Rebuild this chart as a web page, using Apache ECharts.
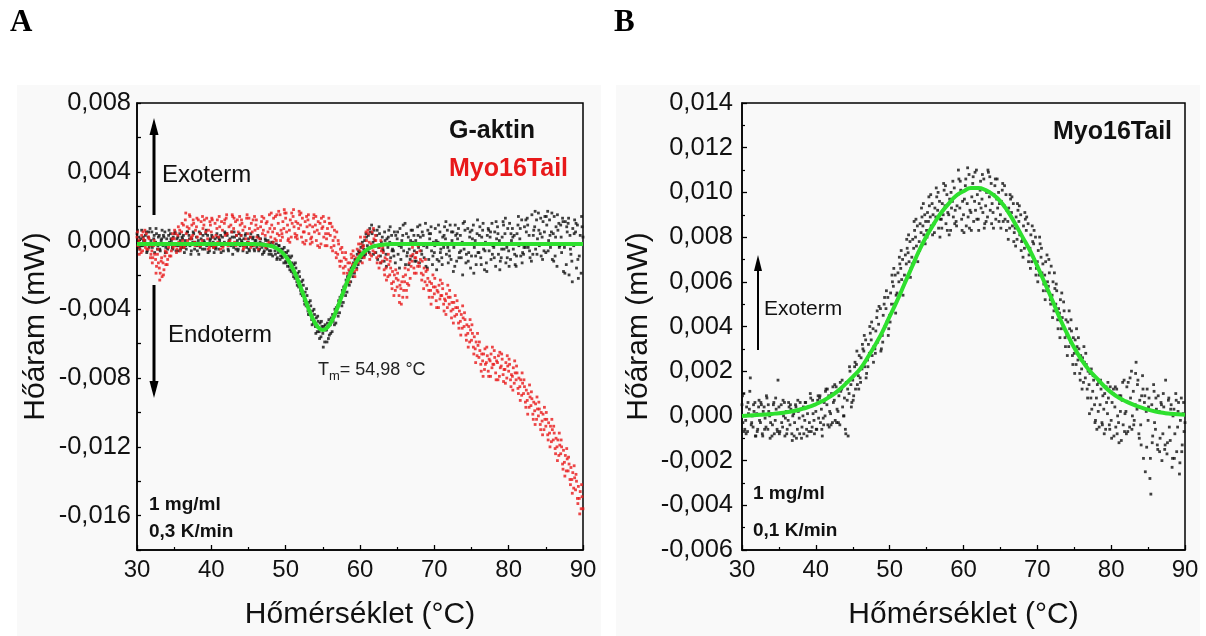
<!DOCTYPE html>
<html>
<head>
<meta charset="utf-8">
<script src="https://cdn.jsdelivr.net/npm/echarts@6/dist/echarts.min.js"></script>
<style>
  html, body { margin: 0; padding: 0; background: #ffffff; }
  .panelbg { position: absolute; background: #f9f9f9; }
  #chart { position: absolute; left: 0; top: 0; width: 1206px; height: 636px; }
</style>
</head>
<body>
<div class="panelbg" style="left:17px;top:85px;width:584px;height:551px;"></div>
<div class="panelbg" style="left:616px;top:85px;width:584px;height:551px;"></div>
<div id="chart"></div>
<script>
// ---------------- DATA ----------------
// Readings are binned every 0.5 °C (30 ... 90). First pass: 4 readings per bin, second pass: 2 readings per bin (µW).
const binStart = 30, binStep = 0.5;
const offsetsPass1 = [0, 0.125, 0.25, 0.375]; // °C offset of each reading inside a bin
const offsetsPass2 = [0.06, 0.31];

// Panel A – G-aktin (black), µW
const gAktinA = [
[0.4,-0.1,0.2,-0.5],[0.1,0.6,-0.3,0.0],[-0.2,0.3,0.5,-0.6],[0.2,-0.4,0.7,0.0],[0.5,-0.2,0.1,-0.7],
[-0.1,0.4,-0.5,0.2],[0.3,-0.6,0.0,0.6],[-0.3,0.2,0.5,-0.4],[0.1,-0.5,0.3,-0.1],[0.4,0.0,-0.4,0.2],
[-0.2,0.5,-0.6,0.1],[0.2,-0.3,0.4,-0.5],[-0.4,0.1,0.3,-0.7],[0.0,-0.5,0.5,-0.2],[0.3,-0.3,-0.8,0.1],
[-0.1,0.4,-0.5,-0.2],[0.2,-0.6,0.0,0.5],[-0.4,0.1,-0.2,0.3],[0.0,-0.5,0.4,-0.3],[0.3,-0.2,-0.6,0.1],
[-0.3,0.2,-0.1,-0.7],[0.1,-0.4,0.4,-0.2],[-0.5,0.0,0.3,-0.3],[0.2,-0.6,-0.1,0.4],[-0.2,0.3,-0.5,0.0],
[0.1,-0.3,0.5,-0.8],[-0.4,0.2,-0.2,0.3],[0.0,-0.5,0.4,-0.3],[0.3,-0.1,-0.6,0.1],[-0.2,0.4,-0.4,-0.1],
[0.1,-0.6,0.2,-0.3],[-0.3,0.2,-0.5,0.0],[0.0,-0.4,0.3,-0.6],[-0.5,0.1,-0.2,-0.8],[-0.2,-0.6,0.1,-0.4],
[-0.5,0.0,-0.8,-0.2],[-0.6,-0.1,-0.9,-0.3],[-0.4,-0.8,-0.2,-1.0],[-0.7,-0.3,-1.1,-0.5],[-0.9,-0.5,-1.3,-0.7],
[-1.2,-0.7,-1.5,-0.9],[-1.5,-1.0,-1.8,-1.3],[-1.9,-1.4,-2.2,-1.6],[-2.4,-1.9,-2.7,-2.1],[-2.9,-2.4,-3.2,-2.6],
[-3.5,-3.0,-3.8,-3.2],[-4.1,-3.6,-4.3,-3.8],[-4.6,-4.1,-4.8,-4.3],[-5.0,-4.5,-5.3,-4.7],[-5.3,-4.8,-5.6,-5.0],
[-5.4,-5.0,-5.9,-5.2],[-5.2,-4.8,-5.7,-5.5],[-4.9,-4.5,-5.3,-4.7],[-4.4,-4.0,-4.8,-4.2],[-3.8,-3.5,-4.2,-3.6],
[-3.2,-2.9,-3.6,-3.0],[-2.6,-2.3,-3.0,-2.5],[-2.0,-1.8,-2.4,-1.9],[-1.5,-1.3,-1.9,-1.2],[-1.1,-0.8,-1.4,-0.7],
[-0.7,-0.4,-1.0,-0.3],[-0.5,0.0,-0.8,0.2],[-0.3,0.3,-0.7,0.5],[-0.4,0.4,-0.1,0.6],[0.0,-0.7,0.3,-1.1],
[-0.4,0.4,-0.9,-0.1],[0.2,-0.6,-1.2,0.0],[-0.8,0.1,-0.4,0.6],[-0.1,-1.0,0.3,-0.5],[-0.6,0.5,-1.3,-0.2],
[0.1,-0.8,-0.3,0.7],[-1.1,0.0,0.3,-0.6],[-0.2,-1.4,0.4,-0.7],[0.2,-0.5,-1.1,0.6],[-0.9,-0.1,0.3,-1.2],
[0.0,-0.7,0.8,-0.4],[-1.3,0.2,-0.6,0.5],[0.3,-1.0,-0.2,-1.5],[-0.4,0.6,-1.1,0.1],[0.4,-0.6,-1.4,-0.1],
[-0.7,0.7,0.0,-1.1],[-0.1,-1.2,0.5,-0.5],[-1.0,0.2,-0.4,0.8],[0.1,-0.8,0.6,-1.3],[-0.6,0.9,-1.1,0.0],
[0.5,-0.4,-1.5,0.3],[-1.2,0.1,0.7,-0.7],[0.3,-1.0,-0.1,1.0],[-0.5,0.6,-1.3,-0.2],[0.7,-0.7,0.2,-1.6],
[-0.9,0.1,0.9,-0.4],[0.0,-1.4,0.4,-0.7],[-0.7,0.8,-1.0,0.2],[0.6,-0.5,-1.7,-0.1],[-1.3,0.3,0.7,-0.6],
[0.2,-1.1,1.0,-0.3],[-0.4,0.5,-1.5,0.1],[0.8,-0.8,0.0,-1.2],[-1.0,0.2,1.1,-0.5],[0.4,-1.3,-0.4,0.7],
[-0.6,1.0,-1.1,0.0],[0.7,-0.5,0.3,-1.4],[-1.5,0.4,0.9,-0.3],[0.1,-0.9,1.2,-0.7],[-0.8,0.8,-0.4,0.5],
[1.3,-0.4,0.3,-1.0],[-0.2,1.5,-0.8,0.6],[0.8,-0.5,1.2,0.1],[1.6,-0.3,0.4,-0.9],[0.2,1.1,-0.6,1.4],
[-0.7,0.9,1.7,0.0],[1.2,-0.4,0.5,-1.1],[0.4,1.4,-0.9,0.8],[-1.5,0.6,1.0,-0.3],[0.9,-0.7,1.3,-1.8],
[-0.4,1.1,-1.4,0.5],[1.0,-2.0,0.3,-0.8],[-1.2,0.7,-0.3,1.2],[0.5,-1.6,0.9,-2.2],[-0.9,0.3,-1.9,0.8],
[0.2,-1.3,1.1,-0.6]
];
const gAktinA2 = [
[0.6,-0.4],[-0.3,0.2],[0.0,-0.7],[0.5,-0.2],[-0.4,0.3],[0.7,-0.3],[-0.5,0.1],[0.3,-0.7],[-0.2,0.6],[0.1,-0.5],
[0.4,-0.3],[-0.6,0.0],[0.2,-0.4],[-0.3,0.5],[0.1,-0.6],[0.5,-0.1],[-0.3,-0.8],[0.4,-0.5],[-0.1,0.6],[-0.7,0.0],
[0.3,-0.4],[-0.5,0.2],[0.1,-0.7],[-0.3,0.5],[0.4,-0.6],[-0.2,0.2],[0.5,-0.5],[-0.6,0.1],[0.0,-0.3],[0.3,-0.7],
[-0.5,0.4],[0.1,-0.6],[-0.2,0.2],[-0.1,-0.4],[-0.7,0.0],[-0.3,-0.6],[-0.8,-0.1],[-0.6,-1.1],[-0.3,-0.9],[-1.0,-0.4],
[-1.3,-0.6],[-1.7,-0.9],[-2.1,-1.3],[-2.6,-1.8],[-3.1,-2.3],[-3.7,-2.8],[-4.3,-3.5],[-4.9,-4.0],[-5.4,-4.4],[-5.7,-4.7],
[-6.2,-4.9],[-5.9,-4.6],[-5.4,-4.3],[-4.9,-3.9],[-4.4,-3.3],[-3.8,-2.7],[-3.2,-2.1],[-2.6,-1.6],[-2.1,-1.1],[-1.6,-0.6],
[-1.2,-0.1],[-0.9,0.4],[-0.6,0.7],[0.9,-0.8],[-0.3,0.6],[0.8,-1.3],[-0.5,0.5],[-1.5,0.2],[0.8,-0.6],[-0.9,0.3],
[0.5,-1.6],[-0.4,0.9],[1.0,-0.9],[-1.4,0.0],[0.6,-0.6],[-1.2,0.3],[0.9,-0.8],[-0.3,1.0],[-1.6,0.4],[0.8,-0.9],
[-0.3,-1.7],[0.9,-0.7],[-1.4,0.3],[1.1,-0.4],[-0.9,0.5],[-1.8,0.9],[0.4,-1.0],[-0.6,-2.0],[1.1,-0.8],[-1.2,0.5],
[0.6,-1.9],[-0.9,1.2],[0.3,-1.4],[1.0,-0.6],[-1.8,0.6],[0.5,-0.8],[-1.0,1.1],[0.4,-1.7],[-0.5,0.9],[1.3,-1.0],
[-1.5,0.4],[0.2,-0.8],[-0.9,1.4],[0.7,-1.3],[-0.4,1.2],[0.9,-0.6],[-1.2,0.3],[1.7,-0.8],[0.6,1.3],[-1.1,0.5],
[1.4,-0.6],[0.3,1.6],[-1.2,0.2],[1.5,-0.4],[0.2,1.1],[-1.9,0.8],[1.3,-0.5],[-2.4,0.4],[1.0,-1.1],[-0.2,1.4],
[-1.7,0.6]
];

// Panel A – Myo16Tail (red), µW
const myo16TailA = [
[0.2,-0.3,0.0,-0.5],[-0.2,0.3,-0.6,0.1],[0.0,-0.4,0.4,-0.2],[-0.5,0.1,-0.3,-0.8],[-0.6,-1.0,-0.3,-0.8],
[-1.1,-1.5,-0.8,-1.3],[-1.6,-1.9,-1.2,-2.1],[-1.3,-1.7,-0.9,-1.4],[-0.7,-1.1,-0.4,-0.9],[-0.2,-0.6,0.1,-0.4],
[0.1,-0.3,0.4,-0.5],[0.3,-0.1,0.6,-0.4],[0.5,0.0,0.9,-0.3],[1.2,0.4,0.8,-0.2],[0.7,1.4,0.1,0.9],
[0.3,1.0,-0.1,0.6],[0.8,0.2,1.2,-0.3],[0.4,1.1,0.0,0.7],[0.9,-0.2,0.5,1.3],[0.1,0.6,-0.4,0.9],
[0.5,1.2,0.2,-0.3],[1.0,0.3,0.7,-0.1],[0.2,0.8,-0.5,1.1],[0.6,-0.2,1.0,0.3],[1.3,0.4,-0.3,0.8],
[0.0,0.9,0.5,1.4],[0.7,-0.1,1.1,0.3],[1.2,0.5,-0.2,0.9],[0.3,1.0,0.6,-0.4],[0.8,0.1,1.3,0.4],
[-0.1,0.7,0.2,1.0],[0.5,1.2,-0.3,0.6],[0.9,0.2,0.7,-0.2],[0.1,0.8,1.1,0.4],[0.6,-0.3,0.3,1.0],
[1.1,0.5,-0.1,0.7],[0.2,0.9,0.5,1.3],[0.7,1.4,0.0,0.4],[1.0,0.3,1.5,0.6],[0.4,1.1,0.7,1.6],
[1.3,0.5,0.9,0.1],[0.6,1.2,0.2,1.0],[1.4,0.8,0.4,1.1],[0.3,1.0,0.7,1.5],[0.9,0.2,1.3,0.5],
[0.5,1.1,0.0,0.8],[1.2,0.4,0.9,0.1],[0.2,0.8,1.3,0.5],[0.9,0.0,0.6,1.1],[0.4,1.0,-0.2,0.7],
[0.8,0.2,1.1,0.4],[0.1,0.7,0.4,1.0],[0.3,-0.4,0.8,0.0],[-0.3,0.2,-0.7,0.5],[-0.8,-0.2,-1.2,-0.5],
[-1.2,-0.7,-1.6,-1.0],[-1.5,-1.1,-1.9,-1.3],[-1.7,-1.3,-2.0,-1.0],[-1.4,-0.9,-1.8,-1.2],[-1.0,-0.5,-1.3,-0.8],
[-0.6,-0.2,-0.9,-0.4],[-0.3,0.2,-0.7,0.0],[-0.5,0.4,-0.1,-0.8],[-0.2,0.5,-0.6,0.1],[-0.7,0.0,-1.0,-0.3],
[-0.9,-0.4,-1.3,-0.6],[-1.2,-0.7,-1.7,-1.0],[-1.6,-1.1,-2.1,-1.4],[-2.0,-1.6,-2.5,-1.8],[-2.4,-2.0,-2.9,-2.2],
[-2.7,-2.3,-3.2,-2.6],[-2.8,-2.4,-3.3,-2.9],[-2.4,-2.0,-2.9,-2.5],[-1.7,-1.3,-2.2,-1.5],[-1.2,-0.8,-1.6,-1.0],
[-1.0,-0.7,-1.5,-1.3],[-1.5,-1.1,-1.9,-1.2],[-2.0,-1.6,-2.4,-1.8],[-2.6,-2.2,-2.9,-2.4],[-2.9,-2.5,-3.3,-2.7],
[-3.1,-2.7,-3.5,-2.9],[-3.0,-2.6,-3.4,-3.2],[-3.2,-2.8,-3.7,-3.4],[-3.5,-3.1,-3.9,-3.3],[-3.7,-3.3,-4.1,-3.6],
[-4.0,-3.6,-4.4,-3.9],[-4.3,-3.9,-4.8,-4.1],[-4.7,-4.3,-5.1,-4.5],[-5.0,-4.6,-5.5,-4.9],[-5.4,-5.0,-5.9,-5.2],
[-5.8,-5.4,-6.2,-5.6],[-6.3,-5.9,-6.7,-6.1],[-6.8,-6.4,-7.2,-6.6],[-7.0,-6.6,-7.5,-7.2],[-7.1,-6.7,-7.6,-6.9],
[-7.0,-6.6,-7.4,-7.2],[-7.2,-6.8,-7.7,-7.0],[-7.1,-6.7,-7.9,-7.4],[-7.3,-6.9,-7.8,-7.5],[-7.5,-7.1,-8.0,-7.3],
[-7.6,-7.2,-8.1,-7.8],[-7.9,-7.4,-8.3,-7.7],[-8.1,-7.7,-8.6,-8.0],[-8.5,-8.1,-9.0,-8.3],[-8.9,-8.5,-9.4,-8.7],
[-9.3,-8.9,-9.7,-9.1],[-9.6,-9.2,-10.1,-9.4],[-9.9,-9.5,-10.4,-9.8],[-10.2,-9.8,-10.7,-10.0],[-10.5,-10.1,-11.0,-10.4],
[-10.8,-10.4,-11.3,-10.6],[-11.2,-10.8,-11.7,-11.0],[-11.6,-11.2,-12.1,-11.5],[-12.0,-11.6,-12.5,-11.9],[-12.4,-12.0,-13.0,-12.2],
[-12.9,-12.5,-13.4,-12.7],[-13.4,-13.0,-13.9,-13.2],[-13.9,-13.5,-14.4,-13.8],[-14.5,-14.0,-15.0,-14.3],[-15.0,-14.6,-15.6,-14.9],
[-15.6,-15.1,-16.4,-15.4]
];
const myo16TailA2 = [
[0.5,-0.8],[-0.7,0.5],[0.6,-0.5],[0.2,-1.0],[-1.3,0.0],[-1.9,-0.5],[-2.3,-1.0],[-2.0,-0.6],[-1.4,-0.2],[-0.9,0.4],
[0.6,-0.7],[0.8,-0.6],[1.0,-0.4],[1.6,0.0],[1.5,0.2],[1.2,-0.3],[1.3,-0.2],[-0.3,1.4],[1.2,-0.2],[-0.5,1.1],
[1.3,-0.4],[-0.3,1.2],[1.4,-0.2],[-0.4,1.2],[1.5,-0.1],[-0.2,1.5],[1.3,-0.3],[-0.2,1.4],[1.2,-0.5],[-0.3,1.5],
[1.3,-0.4],[-0.2,1.4],[1.2,-0.5],[-0.3,1.4],[1.3,-0.4],[-0.2,1.5],[1.6,-0.1],[0.1,1.5],[1.7,0.0],[0.2,1.8],
[1.6,0.0],[-0.1,1.6],[1.8,0.2],[0.1,1.7],[1.6,-0.1],[-0.2,1.4],[1.5,-0.2],[-0.1,1.5],[1.4,-0.3],[-0.4,1.3],
[1.4,-0.3],[-0.3,1.3],[1.0,-0.6],[0.6,-1.0],[0.0,-1.5],[-0.4,-1.9],[-0.7,-2.3],[-2.4,-0.8],[-0.6,-2.1],[-1.7,-0.2],
[0.2,-1.3],[-1.0,0.5],[0.6,-1.1],[-0.9,0.7],[0.3,-1.3],[-1.6,0.0],[-0.4,-2.0],[-2.3,-0.8],[-1.2,-2.8],[-3.2,-1.7],
[-1.9,-3.6],[-3.7,-2.1],[-1.6,-3.3],[-2.6,-0.9],[-0.4,-1.9],[-1.9,-0.3],[-0.6,-2.3],[-2.8,-1.1],[-1.7,-3.3],[-3.7,-2.0],
[-2.2,-3.9],[-3.9,-2.3],[-2.5,-4.1],[-4.3,-2.6],[-2.9,-4.5],[-4.8,-3.2],[-3.5,-5.1],[-5.5,-3.8],[-4.2,-5.8],[-6.2,-4.6],
[-4.9,-6.6],[-7.1,-5.4],[-5.9,-7.6],[-7.9,-6.3],[-6.2,-7.9],[-7.9,-6.2],[-6.4,-8.1],[-8.1,-6.5],[-6.6,-8.2],[-8.3,-6.7],
[-6.9,-8.5],[-8.7,-7.0],[-7.3,-8.9],[-9.3,-7.7],[-8.1,-9.7],[-10.1,-8.4],[-8.8,-10.4],[-10.7,-9.1],[-9.4,-11.0],[-11.3,-9.7],
[-10.0,-11.6],[-12.0,-10.4],[-10.8,-12.4],[-12.8,-11.2],[-11.6,-13.3],[-13.7,-12.1],[-12.6,-14.2],[-14.7,-13.1],[-13.6,-15.3],[-15.9,-14.2],
[-14.8,-16.6]
];

// Panel A – green fit, µW
const fitA_T = [30,35,40,44,45,46,46.5,47,47.5,48,48.5,49,49.5,50,50.5,51,51.5,52,52.5,53,53.5,54,54.5,55,
  55.5,56,56.5,57,57.5,58,58.5,59,59.5,60,60.5,61,61.5,62,62.5,63,63.5,64,65,70,80,90];
const fitA_V = [-0.2,-0.2,-0.2,-0.2,-0.2,-0.21,-0.22,-0.24,-0.27,-0.32,-0.39,-0.51,-0.69,-0.93,-1.25,-1.66,-2.15,-2.70,-3.29,-3.88,-4.41,-4.83,-5.10,-5.20,
  -5.10,-4.83,-4.41,-3.88,-3.29,-2.70,-2.15,-1.66,-1.25,-0.93,-0.69,-0.51,-0.39,-0.32,-0.27,-0.24,-0.22,-0.21,-0.2,-0.2,-0.2,-0.2];

// Panel B – Myo16Tail (black), µW
const myo16TailB = [
[0.5,-0.3,1.0,-0.6],[-0.2,0.4,-0.7,0.1],[0.3,1.7,-0.4,0.0],[-0.5,0.2,0.6,-0.9],[0.1,-0.6,0.4,-0.2],
[-0.3,0.5,-0.8,0.2],[0.4,-0.1,-0.5,0.8],[-0.6,0.2,0.0,-0.3],[0.1,-0.4,0.5,-0.8],[-0.2,0.3,-0.6,1.6],
[0.4,-0.7,0.1,-0.3],[-0.5,0.0,0.6,-0.1],[0.2,-0.6,-0.2,0.4],[-0.4,0.3,-0.8,0.0],[0.1,-0.3,0.5,-1.0],
[-0.6,0.2,-0.1,0.6],[0.3,-0.5,0.0,-0.8],[-0.2,0.6,-0.6,0.1],[0.4,-0.3,1.0,-0.7],[-0.5,0.1,-0.2,0.5],
[0.2,-0.6,0.7,-0.1],[0.8,-0.3,0.3,-0.9],[-0.1,0.6,0.0,1.2],[0.5,-0.4,0.9,0.2],[0.1,1.0,-0.3,0.6],
[0.7,-0.2,1.3,0.3],[0.2,0.9,-0.4,1.1],[1.2,0.4,0.0,0.8],[-0.6,1.5,0.7,-0.9],[1.0,2.0,1.4,0.6],
[1.6,0.9,2.2,1.2],[2.3,1.4,1.8,2.7],[1.7,2.6,2.1,3.0],[2.9,2.2,3.4,1.9],[2.5,3.2,2.8,3.7],
[3.4,2.7,3.9,3.1],[3.0,3.8,4.4,3.3],[4.1,3.5,4.8,3.0],[3.6,4.5,5.0,4.0],[4.8,4.2,5.3,3.9],
[4.5,5.5,5.0,6.0],[5.8,5.0,6.3,5.4],[5.5,6.4,6.0,6.8],[6.6,6.1,7.0,5.8],[6.3,7.2,6.8,7.5],
[7.3,6.9,7.8,6.6],[7.1,7.9,7.5,8.3],[8.0,7.6,8.5,7.3],[7.8,8.6,8.2,8.9],[8.5,8.1,9.0,8.7],
[8.3,9.1,8.7,9.4],[8.9,8.5,9.5,9.0],[8.6,9.3,8.9,9.8],[9.2,8.4,9.6,8.8],[8.8,9.5,9.0,10.1],
[9.4,8.6,9.9,9.1],[9.0,9.7,8.3,9.3],[9.6,8.9,10.2,9.2],[8.7,9.4,9.9,10.6],[9.3,10.1,8.8,9.6],
[9.0,9.7,10.3,8.5],[9.5,8.9,10.8,9.2],[9.1,9.8,10.4,8.7],[9.6,9.2,11.0,9.9],[8.8,9.5,10.1,9.3],
[9.7,9.1,10.6,8.6],[9.4,10.0,8.9,10.9],[9.8,9.2,10.4,9.5],[9.1,9.9,10.3,8.8],[9.7,9.3,10.0,9.5],
[9.0,9.6,10.1,8.7],[9.4,8.8,9.9,9.2],[8.7,9.3,8.4,9.7],[9.1,8.5,9.5,8.2],[8.4,8.9,7.9,9.2],
[8.7,8.1,9.0,7.8],[7.9,8.5,7.5,8.8],[8.3,7.6,8.6,7.2],[7.5,8.1,6.9,7.8],[7.7,7.0,8.0,6.6],
[6.9,7.4,6.3,7.7],[7.1,6.4,6.8,5.9],[6.3,6.9,5.6,6.0],[5.8,6.4,5.2,6.7],[5.4,6.0,4.7,5.7],
[5.0,5.6,4.3,4.8],[4.6,5.2,3.9,4.4],[4.0,4.7,3.5,4.3],[3.6,4.2,3.1,3.9],[3.3,3.8,2.7,3.5],
[2.8,3.4,2.3,3.1],[2.5,3.0,1.9,2.7],[2.1,2.6,1.5,2.4],[1.7,2.3,1.2,2.0],[1.4,1.9,0.8,0.3],
[1.1,1.6,0.5,-0.2],[0.8,1.4,0.2,-0.5],[0.5,1.2,-0.3,0.9],[0.3,1.0,-0.6,0.6],[0.1,0.8,-0.4,1.3],
[-0.2,0.6,1.0,-0.9],[0.4,-0.5,1.2,0.0],[-0.3,0.9,0.2,-1.1],[0.7,-0.4,1.6,0.1],[0.2,1.3,-0.7,0.6],
[-0.5,0.8,2.0,0.0],[1.1,-0.2,0.5,2.4],[0.3,1.6,-0.8,0.7],[-0.4,0.9,1.8,-1.9],[0.6,-2.5,0.2,1.2],
[-0.2,0.8,-2.8,-3.5],[0.5,-0.9,1.4,-0.3],[-0.6,0.3,-1.3,0.9],[0.2,-1.0,0.6,-2.0],[-0.8,0.4,-1.5,1.6],
[0.1,-1.2,0.7,-0.5],[-1.1,0.5,-2.3,0.0],[0.3,-0.8,1.0,-1.6],[-0.5,0.6,-2.6,-0.2],[0.8,-1.3,0.1,-0.7],
[-0.3,1.5,-1.0,0.4]
];
const myo16TailB2 = [
[0.9,-0.7],[-0.8,0.6],[1.1,-0.3],[0.5,-0.9],[-0.7,0.7],[0.6,-0.9],[-0.6,0.9],[0.5,-1.0],[-0.9,0.6],[0.8,-0.7],
[-0.8,0.5],[0.7,-0.9],[-0.8,0.6],[0.5,-1.1],[-0.9,0.4],[0.7,-0.8],[-1.0,0.4],[0.6,-0.9],[-0.7,0.8],[0.7,-0.8],
[-0.6,0.9],[0.9,-0.6],[-0.4,1.1],[1.2,-0.5],[-0.4,1.3],[1.4,-0.3],[-0.3,1.5],[1.6,0.0],[-0.8,1.2],[2.2,0.4],
[0.7,2.4],[2.9,1.2],[1.5,3.2],[3.6,1.7],[2.2,4.0],[4.2,2.4],[2.8,4.7],[4.9,2.9],[3.3,5.3],[5.6,3.6],
[4.2,6.3],[6.6,4.6],[5.2,7.1],[7.4,5.4],[6.0,7.9],[8.1,6.2],[6.8,8.7],[8.8,6.9],[7.4,9.3],[9.5,7.7],
[8.0,9.8],[9.9,8.1],[8.2,10.2],[10.0,8.0],[8.4,10.4],[10.3,8.3],[8.1,10.0],[10.5,8.6],[8.5,11.0],[10.5,8.3],
[8.2,10.6],[11.1,8.4],[8.3,10.7],[10.9,8.8],[8.3,10.5],[10.8,8.4],[8.7,11.0],[10.7,8.6],[8.4,10.6],[10.6,8.7],
[8.4,10.4],[10.3,8.3],[7.9,9.9],[9.8,7.8],[7.6,9.5],[9.4,7.4],[7.1,9.1],[8.9,6.9],[6.6,8.5],[8.3,6.3],
[6.0,8.0],[7.5,5.6],[5.2,7.2],[7.0,5.0],[4.4,6.4],[5.9,3.9],[3.5,5.5],[5.1,3.1],[2.7,4.7],[4.3,2.3],
[1.9,3.9],[3.5,1.6],[1.2,3.1],[2.8,0.8],[0.1,2.1],[1.8,-0.3],[-0.6,1.5],[1.6,-0.4],[-0.8,1.3],[1.5,-0.6],
[-1.0,1.2],[1.3,-0.8],[-1.2,0.9],[1.5,-0.7],[-0.8,1.5],[1.7,-0.6],[-0.4,1.9],[1.4,-1.0],[-1.3,1.2],[0.9,-1.4],
[0.4,-1.9],[-1.2,1.1],[0.8,-1.5],[-1.6,0.5],[1.0,-1.3],[-1.7,0.8],[0.3,-1.9],[-1.9,0.7],[0.2,-2.1],[-1.6,0.6],
[-1.2,0.9]
];

// Panel B – green fit, µW
const fitB_T = [30,31,32,33,34,35,36,37,38,39,40,41,42,43,44,45,46,47,48,49,50,51,52,53,54,55,56,57,58,59,60,
  61,62,63,64,65,66,67,68,69,70,71,72,73,74,75,76,77,78,79,80,81,82,83,84,85,86,87,88,89,90];
const fitB_V = [0.0,0.02,0.04,0.06,0.09,0.12,0.16,0.22,0.3,0.4,0.52,0.68,0.88,1.12,1.42,1.75,2.1,2.6,3.15,3.75,4.45,5.15,5.9,6.65,7.4,8.05,8.6,9.1,9.5,9.85,10.05,
  10.2,10.2,10.1,9.9,9.6,9.15,8.6,8.0,7.4,6.7,5.95,5.2,4.4,3.7,3.05,2.5,2.05,1.7,1.35,1.05,0.82,0.65,0.5,0.38,0.28,0.2,0.14,0.1,0.07,0.05];

// tick label list for panel A (every other 0.002 tick carries a label)
const yTicksA = [-0.016,-0.012,-0.008,-0.004,0,0.004,0.008];

// ---------------- BUILD ----------------
const uW = 0.001; // 1 µW in mW
function cloud(rows, offsets, rows2, offsets2) {
  const pts = [];
  rows.forEach((r, i) => r.forEach((v, k) => pts.push([binStart + i * binStep + offsets[k], v * uW])));
  rows2.forEach((r, i) => r.forEach((v, k) => pts.push([binStart + i * binStep + offsets2[k], v * uW])));
  return pts;
}
function curve(T, V) { return T.map((t, i) => [t, V[i] * uW]); }
function fmt(v) {
  if (Math.abs(v) < 1e-9) return '0,000';
  return v.toFixed(3).replace('.', ',');
}
const FONT = '"Liberation Sans", Arial, Helvetica, sans-serif';
const TXT = '#111';

function xAxis(gi) {
  return {
    gridIndex: gi, type: 'value', min: 30, max: 90, interval: 10,
    axisLine: { show: true, onZero: false, lineStyle: { color: '#000', width: 1.5 } },
    axisTick: { show: true, inside: true, length: 5, lineStyle: { color: '#000', width: 1.3 } },
    minorTick: { show: true, splitNumber: 2, length: 3, lineStyle: { color: '#000', width: 1.2 } },
    splitLine: { show: false }, minorSplitLine: { show: false },
    axisLabel: { fontSize: 24, color: TXT, margin: 8, fontFamily: FONT, showMinLabel: true, showMaxLabel: true },
    name: 'Hőmérséklet (°C)', nameLocation: 'middle', nameGap: 50,
    nameTextStyle: { fontSize: 30, color: TXT, fontFamily: FONT }
  };
}
function yAxisBase(gi) {
  return {
    gridIndex: gi, type: 'value',
    axisLine: { show: true, onZero: false, lineStyle: { color: '#000', width: 1.5 } },
    axisTick: { show: true, inside: true, length: 5, lineStyle: { color: '#000', width: 1.3 } },
    splitLine: { show: false }, minorSplitLine: { show: false },
    axisLabel: { fontSize: 25.5, color: TXT, margin: 6, fontFamily: FONT, showMinLabel: true, showMaxLabel: true },
    name: 'Hőáram (mW)', nameLocation: 'middle', nameGap: 86,
    nameTextStyle: { fontSize: 30, color: TXT, fontFamily: FONT }
  };
}
const yA = yAxisBase(0);
Object.assign(yA, { min: -0.018, max: 0.008, interval: 0.002 });
yA.axisTick.length = 4;
yA.axisLabel.formatter = v => (yTicksA.some(t => Math.abs(t - v) < 1e-9) ? fmt(v) : '');
const yB = yAxisBase(1);
Object.assign(yB, { min: -0.006, max: 0.014, interval: 0.002, nameGap: 88 });
yB.axisLabel.margin = 9;
yB.minorTick = { show: true, splitNumber: 2, length: 3, lineStyle: { color: '#000', width: 1.2 } };
yB.axisLabel.formatter = v => fmt(v);

function txt(x, y, text, font, fill) {
  return { type: 'text', z: 100, style: { x, y, text, font, fill, align: 'left', verticalAlign: 'middle' } };
}
function arrow(x, y1, y2, tipY, headLen, headW, lw) {
  const dir = tipY < y2 ? -1 : 1;
  return [
    { type: 'line', z: 100, shape: { x1: x, y1: y1, x2: x, y2: y2 }, style: { stroke: '#000', lineWidth: lw } },
    { type: 'polygon', z: 100, shape: { points: [[x, tipY], [x - headW / 2, tipY - dir * headLen], [x + headW / 2, tipY - dir * headLen]] },
      style: { fill: '#000' } }
  ];
}

const graphics = [
  txt(10, 23, 'A', 'bold 31px "Liberation Serif", "Times New Roman", serif', '#000'),
  txt(614, 23, 'B', 'bold 31px "Liberation Serif", "Times New Roman", serif', '#000'),
  txt(449, 131, 'G-aktin', 'bold 25px ' + FONT, '#111'),
  txt(449, 169, 'Myo16Tail', 'bold 25px ' + FONT, '#e8191a'),
  txt(162, 175, 'Exoterm', '24px ' + FONT, '#111'),
  txt(168, 335, 'Endoterm', '24px ' + FONT, '#111'),
  {
    type: 'text', z: 100,
    style: {
      x: 318, y: 370, text: '{t|T}{s|m}{t|= 54,98 °C}', align: 'left', verticalAlign: 'middle',
      rich: {
        t: { font: '18px ' + FONT, fill: '#222', lineHeight: 26, verticalAlign: 'middle' },
        s: { font: '13px ' + FONT, fill: '#222', lineHeight: 26, verticalAlign: 'bottom' }
      }
    }
  },
  txt(149, 505, '1 mg/ml', 'bold 19px ' + FONT, '#111'),
  txt(149, 532, '0,3 K/min', 'bold 19px ' + FONT, '#111'),
  txt(1053, 132, 'Myo16Tail', 'bold 25px ' + FONT, '#111'),
  txt(764, 309, 'Exoterm', '21px ' + FONT, '#111'),
  txt(753, 494, '1 mg/ml', 'bold 19px ' + FONT, '#111'),
  txt(753, 531, '0,1 K/min', 'bold 19px ' + FONT, '#111')
].concat(
  arrow(154, 215, 132, 118, 17, 9, 3),
  arrow(154, 285, 384, 398, 17, 9, 3),
  arrow(758, 350, 268, 255, 16, 8, 2)
);

const option = {
  backgroundColor: 'transparent',
  animation: false,
  grid: [
    { left: 137, top: 103, width: 446, height: 447, show: true, borderColor: '#000', borderWidth: 1.5, backgroundColor: 'transparent' },
    { left: 742, top: 103, width: 443, height: 447, show: true, borderColor: '#000', borderWidth: 1.5, backgroundColor: 'transparent' }
  ],
  xAxis: [xAxis(0), xAxis(1)],
  yAxis: [yA, yB],
  series: [
    { type: 'scatter', name: 'G-aktin', xAxisIndex: 0, yAxisIndex: 0, data: cloud(gAktinA, offsetsPass1, gAktinA2, offsetsPass2),
      symbol: 'rect', symbolSize: 2.8, itemStyle: { color: '#111' }, z: 2, large: false },
    { type: 'scatter', name: 'Myo16Tail A', xAxisIndex: 0, yAxisIndex: 0, data: cloud(myo16TailA, offsetsPass1, myo16TailA2, offsetsPass2),
      symbol: 'rect', symbolSize: 2.8, itemStyle: { color: '#e8191a' }, z: 3, large: false },
    { type: 'line', name: 'fit A', xAxisIndex: 0, yAxisIndex: 0, data: curve(fitA_T, fitA_V),
      showSymbol: false, smooth: 0.3, lineStyle: { color: '#2ee02e', width: 4 }, z: 4 },
    { type: 'scatter', name: 'Myo16Tail B', xAxisIndex: 1, yAxisIndex: 1, data: cloud(myo16TailB, offsetsPass1, myo16TailB2, offsetsPass2),
      symbol: 'rect', symbolSize: 2.8, itemStyle: { color: '#111' }, z: 2, large: false },
    { type: 'line', name: 'fit B', xAxisIndex: 1, yAxisIndex: 1, data: curve(fitB_T, fitB_V),
      showSymbol: false, smooth: true, lineStyle: { color: '#2ee02e', width: 4 }, z: 4 }
  ],
  graphic: graphics
};
const chart = echarts.init(document.getElementById('chart'), null, { renderer: 'canvas' });
chart.setOption(option);
</script>
</body>
</html>
